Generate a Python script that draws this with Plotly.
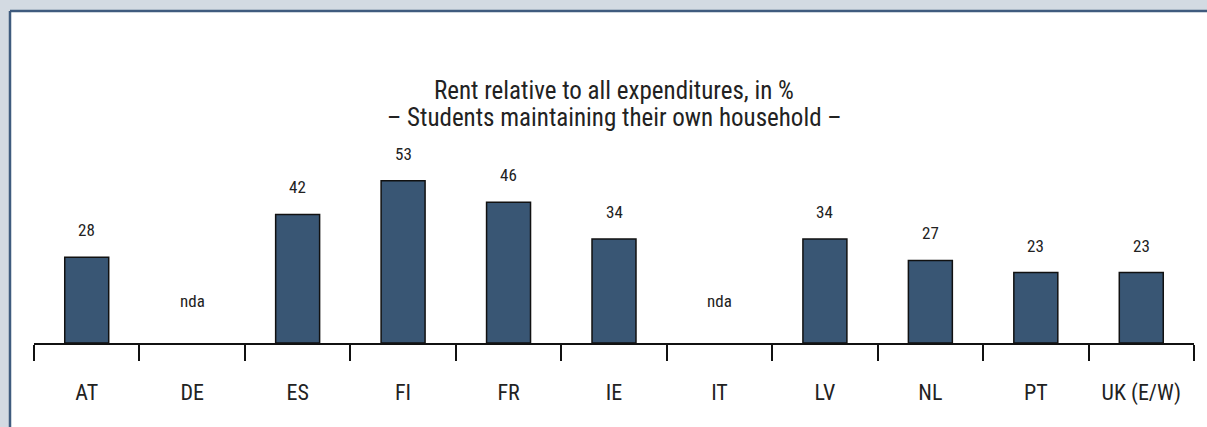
import plotly.graph_objects as go

countries = ["AT", "DE", "ES", "FI", "FR", "IE", "IT", "LV", "NL", "PT", "UK (E/W)"]
rent_share = [28, None, 42, 53, 46, 34, None, 34, 27, 23, 23]
missing_label = "nda"
missing_level = 13.7
title_lines = ["Rent relative to all expenditures, in %", "– Students maintaining their own household –"]

FONT = "Roboto Condensed, Liberation Sans Narrow, sans-serif"
WEIGHT = 400
W, H = 1207, 427
ML, MR, MT, MB = 34, 13, 140, 84
PW, PH = W - ML - MR, H - MT - MB

fig = go.Figure()
fig.add_trace(go.Bar(
    x=countries, y=rent_share,
    marker=dict(color="#395674", line=dict(color="#111111", width=1.5)),
    hoverinfo="x+y",
))

ann = []
for c, v in zip(countries, rent_share):
    if v is None:
        ann.append(dict(x=c, y=missing_level, text=missing_label, showarrow=False,
                        font=dict(family=FONT, size=17, color="#222", weight=WEIGHT)))
    else:
        ann.append(dict(x=c, y=v, text=str(v), showarrow=False, yshift=27,
                        font=dict(family=FONT, size=17, color="#222", weight=WEIGHT)))

ann.append(dict(xref="paper", yref="paper", x=0.5, y=(H - 90 - MB) / PH, yanchor="middle",
                text=title_lines[0], showarrow=False,
                font=dict(family=FONT, size=25, color="#222", weight=WEIGHT)))
ann.append(dict(xref="paper", yref="paper", x=0.5, y=(H - 117 - MB) / PH, yanchor="middle",
                text=title_lines[1], showarrow=False,
                font=dict(family=FONT, size=25, color="#222", weight=WEIGHT)))

def px_x(p):
    return (p - ML) / PW

def px_y(p):
    return (H - MB - p) / PH

shapes = [
    dict(type="rect", xref="paper", yref="paper", layer="below",
         x0=px_x(10), x1=px_x(W + 5), y0=px_y(H + 5), y1=px_y(11),
         fillcolor="white", line=dict(width=0)),
    dict(type="line", xref="paper", yref="paper", layer="below",
         x0=px_x(10), x1=px_x(W + 5), y0=px_y(11), y1=px_y(11),
         line=dict(color="#3F5B7E", width=2.5)),
    dict(type="line", xref="paper", yref="paper", layer="below",
         x0=px_x(10), x1=px_x(10), y0=px_y(11), y1=px_y(H + 5),
         line=dict(color="#3F5B7E", width=2.5)),
]

fig.update_layout(
    width=W, height=H,
    margin=dict(l=ML, r=MR, t=MT, b=MB, pad=0),
    paper_bgcolor="#D3DAE2",
    plot_bgcolor="rgba(0,0,0,0)",
    showlegend=False,
    bargap=0.583,
    annotations=ann,
    shapes=shapes,
    xaxis=dict(
        type="category", tickson="boundaries", ticks="outside", ticklen=16,
        tickwidth=1.5, tickcolor="#111", showline=True, linecolor="#111", linewidth=1.5,
        showgrid=False, zeroline=False, ticklabelstandoff=29,
        tickfont=dict(family=FONT, size=22, color="#222", weight=WEIGHT),
    ),
    yaxis=dict(range=[0, PH / 3.06], visible=False, showgrid=False, zeroline=False),
)

fig.write_html("out.html", config={"displayModeBar": False},
               post_script="document.body.style.margin='0';document.body.style.overflow='hidden';")
